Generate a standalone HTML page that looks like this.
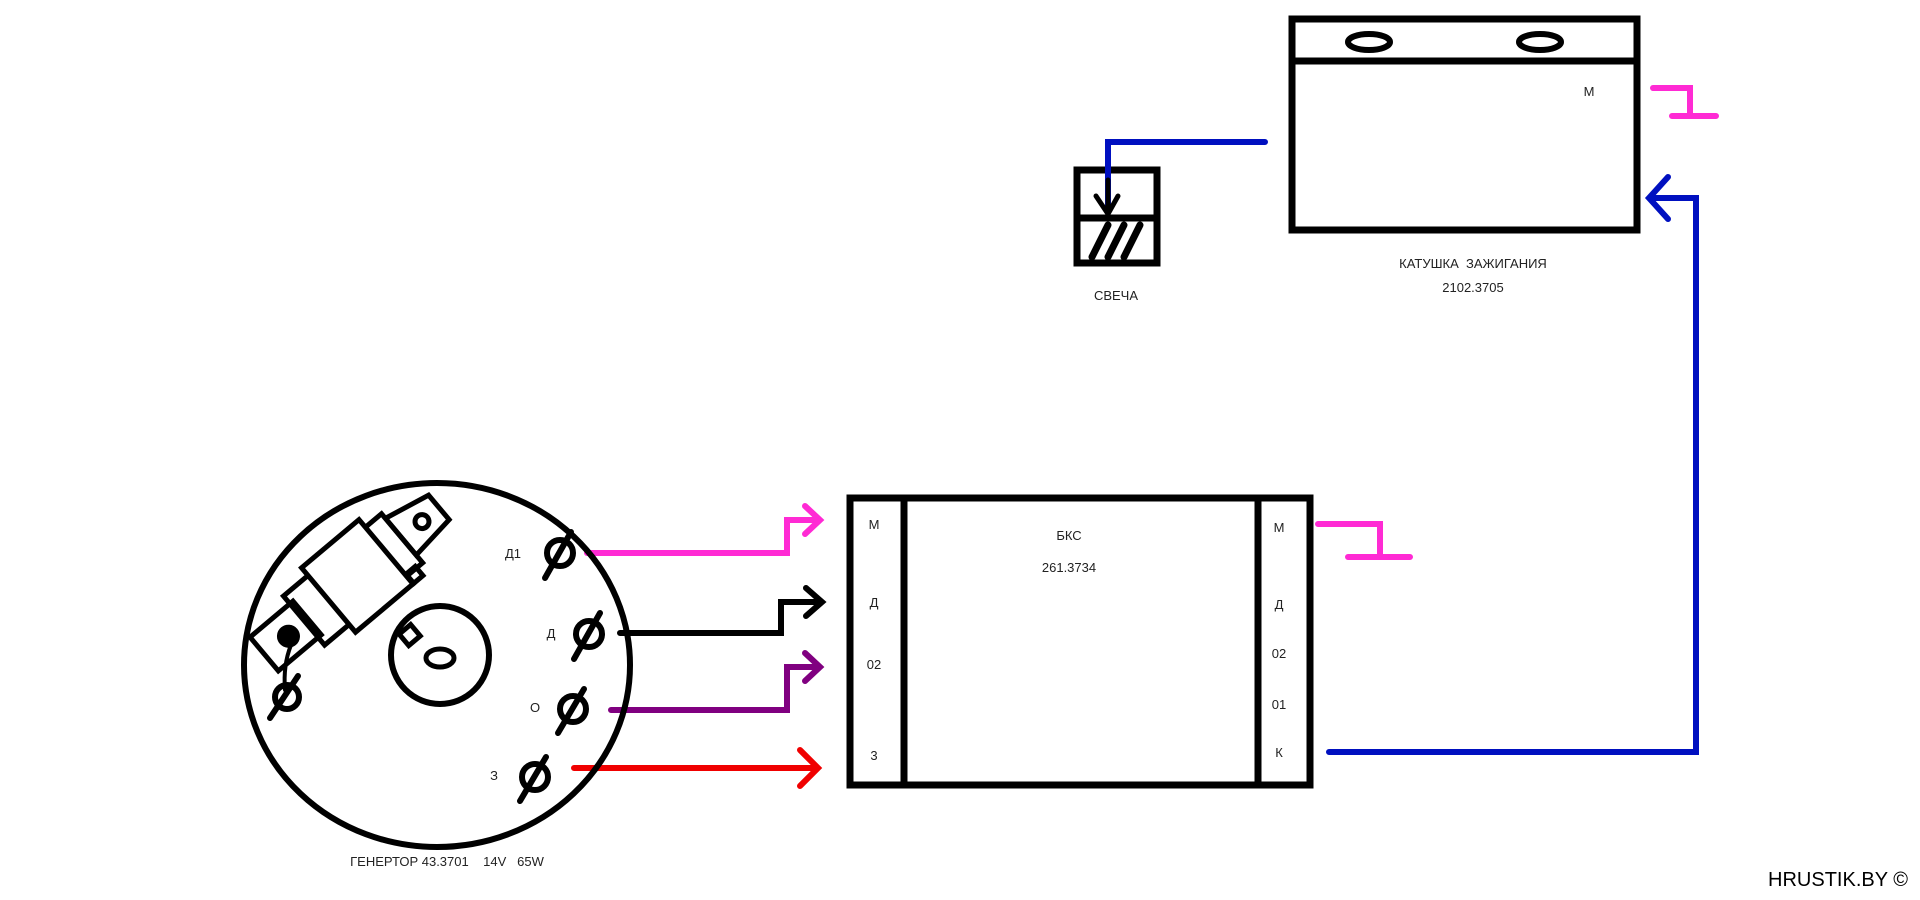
<!DOCTYPE html>
<html><head><meta charset="utf-8"><style>
html,body{margin:0;padding:0;background:#fff;width:1920px;height:900px;overflow:hidden}
svg{display:block}
text{font-family:"Liberation Sans",sans-serif;fill:#222}
</style></head><body>
<svg width="1920" height="900" viewBox="0 0 1920 900" xmlns="http://www.w3.org/2000/svg">
<g fill="none" stroke-linecap="round" stroke-linejoin="miter">
<rect x="1292" y="19" width="345" height="211" stroke="#000" stroke-width="7"/>
<line x1="1292" y1="61" x2="1637" y2="61" stroke="#000" stroke-width="7"/>
<ellipse cx="1369" cy="42" rx="21" ry="8" stroke="#000" stroke-width="6"/>
<ellipse cx="1540" cy="42" rx="21" ry="8" stroke="#000" stroke-width="6"/>
<path d="M1653 88 H1690 V116 M1672 116 H1716" stroke="#ff2ad4" stroke-width="6"/>
<rect x="1077" y="170" width="80" height="93" stroke="#000" stroke-width="7"/>
<line x1="1077" y1="218" x2="1157" y2="218" stroke="#000" stroke-width="7"/>
<path d="M1092 257 L1108 225 M1108 257 L1124 225 M1124 257 L1140 225" stroke="#000" stroke-width="7"/>
<path d="M1265 142 H1108 V212" stroke="#0010c0" stroke-width="6"/>
<path d="M1108 214 V180 M1096 196 L1108 214 L1118 196" stroke="#000" stroke-width="5"/>
<path d="M1329 752 H1696 V198 H1652" stroke="#0010c0" stroke-width="6"/>
<path d="M1668 177 L1649 198 L1668 219" stroke="#0010c0" stroke-width="6"/>
<rect x="850" y="498" width="460" height="287" stroke="#000" stroke-width="7"/>
<line x1="904" y1="498" x2="904" y2="785" stroke="#000" stroke-width="7"/>
<line x1="1258" y1="498" x2="1258" y2="785" stroke="#000" stroke-width="7"/>
<path d="M1318 524 H1380 V557 M1348 557 H1410" stroke="#ff2ad4" stroke-width="6"/>
<path d="M587 553 H787 V520 H818 M805 506 L820 520 L805 534" stroke="#ff2ad4" stroke-width="6"/>
<path d="M620 633 H781 V602 H820 M806 588 L822 602 L806 616" stroke="#000" stroke-width="6"/>
<path d="M611 710 H787 V667 H818 M805 653 L820 667 L805 681" stroke="#800080" stroke-width="6"/>
<path d="M574 768 H816 M800 750 L818 768 L800 786" stroke="#f00000" stroke-width="6"/>
<ellipse cx="437" cy="665" rx="193" ry="182" stroke="#000" stroke-width="6"/>
<circle cx="440" cy="655" r="49" stroke="#000" stroke-width="6"/>
<ellipse cx="440" cy="658" rx="14" ry="9" stroke="#000" stroke-width="5"/>
<rect x="402" y="628" width="15" height="15" stroke="#000" stroke-width="5" transform="rotate(-40 409 635)"/>
<g transform="translate(350 582) rotate(-40)" stroke="#000" stroke-width="5">
<rect x="-112" y="-22" width="56" height="44"/>
<rect x="-60" y="-32" width="128" height="64"/>
<rect x="-28" y="-42" width="75" height="84" fill="#fff"/>
<rect x="48" y="30" width="12" height="12"/>
<path d="M68 -26 L116 -16 L116 16 L68 22 Z"/>
<circle cx="94" cy="0" r="7"/>
<circle cx="-82" cy="2" r="9" fill="#000"/>
</g>
<path d="M291 645 Q283 665 285 690" stroke="#000" stroke-width="4"/>
<g stroke="#000" stroke-width="6">
<circle cx="287" cy="697" r="12"/><line x1="270" y1="718" x2="298" y2="676"/>
<circle cx="560" cy="553" r="13"/><line x1="545" y1="578" x2="571" y2="532"/>
<circle cx="589" cy="634" r="13"/><line x1="574" y1="659" x2="600" y2="613"/>
<circle cx="573" cy="709" r="13"/><line x1="558" y1="733" x2="584" y2="689"/>
<circle cx="535" cy="777" r="13"/><line x1="520" y1="801" x2="546" y2="757"/>
</g>
</g>
<g font-size="13">
<text x="1589" y="96" text-anchor="middle">М</text>
<text x="1116" y="300" text-anchor="middle">СВЕЧА</text>
<text x="1473" y="268" text-anchor="middle" xml:space="preserve">КАТУШКА  ЗАЖИГАНИЯ</text>
<text x="1473" y="292" text-anchor="middle">2102.3705</text>
<text x="1069" y="540" text-anchor="middle">БКС</text>
<text x="1069" y="572" text-anchor="middle">261.3734</text>
<text x="874" y="529" text-anchor="middle">М</text>
<text x="874" y="607" text-anchor="middle">Д</text>
<text x="874" y="669" text-anchor="middle">02</text>
<text x="874" y="760" text-anchor="middle">3</text>
<text x="1279" y="532" text-anchor="middle">М</text>
<text x="1279" y="609" text-anchor="middle">Д</text>
<text x="1279" y="658" text-anchor="middle">02</text>
<text x="1279" y="709" text-anchor="middle">01</text>
<text x="1279" y="757" text-anchor="middle">К</text>
<text x="513" y="558" text-anchor="middle">Д1</text>
<text x="551" y="638" text-anchor="middle">Д</text>
<text x="535" y="712" text-anchor="middle">О</text>
<text x="494" y="780" text-anchor="middle">З</text>
<text x="447" y="866" text-anchor="middle" xml:space="preserve">ГЕНЕРТОР 43.3701    14V   65W</text>
</g>
<text x="1908" y="886" text-anchor="end" font-size="20" style="fill:#000">HRUSTIK.BY ©</text>
</svg>
</body></html>
